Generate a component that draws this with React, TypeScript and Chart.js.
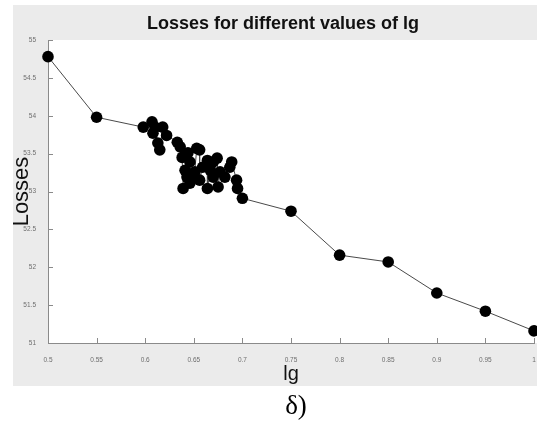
import React, { useEffect, useRef } from 'react';
import { Chart, registerables } from 'chart.js';

Chart.register(...registerables);

const TITLE = 'Losses for different values of lg';
const X_LABEL = 'lg';
const Y_LABEL = 'Losses';
const CAPTION = 'δ)';

const lgValues = [
  0.5, 0.55, 0.598, 0.607, 0.608, 0.61, 0.613, 0.615, 0.618, 0.622,
  0.633, 0.636, 0.638, 0.639, 0.641, 0.643, 0.644, 0.646, 0.646, 0.649,
  0.651, 0.653, 0.656, 0.656, 0.659, 0.664, 0.664, 0.667, 0.67, 0.67,
  0.674, 0.675, 0.677, 0.682, 0.687, 0.689, 0.694, 0.695, 0.7, 0.75,
  0.8, 0.85, 0.9, 0.95, 1.0,
];
const lossValues = [
  54.78, 53.98, 53.85, 53.92, 53.77, 53.85, 53.64, 53.55, 53.85, 53.74,
  53.65, 53.59, 53.45, 53.04, 53.28, 53.19, 53.51, 53.39, 53.11, 53.18,
  53.26, 53.57, 53.55, 53.15, 53.32, 53.41, 53.04, 53.28, 53.39, 53.19,
  53.44, 53.06, 53.26, 53.19, 53.32, 53.39, 53.15, 53.04, 52.91, 52.74,
  52.16, 52.07, 51.66, 51.42, 51.16,
];

const xTicks = [0.5, 0.55, 0.6, 0.65, 0.7, 0.75, 0.8, 0.85, 0.9, 0.95, 1];
const xTickLabels = ['0.5', '0.55', '0.6', '0.65', '0.7', '0.75', '0.8', '0.85', '0.9', '0.95', '1'];
const yTicks = [51, 51.5, 52, 52.5, 53, 53.5, 54, 54.5, 55];
const yTickLabels = ['51', '51.5', '52', '52.5', '53', '53.5', '54', '54.5', '55'];

const W = 537;
const H = 428;

const decorPlugin = {
  id: 'decor',
  beforeDraw(chart: any) {
    const { ctx, chartArea } = chart;
    ctx.save();
    ctx.fillStyle = '#ffffff';
    ctx.fillRect(0, 0, chart.width, chart.height);
    ctx.fillStyle = '#ebebeb';
    ctx.fillRect(13, 5, chart.width - 13, 381);
    ctx.fillStyle = '#ffffff';
    ctx.fillRect(chartArea.left, chartArea.top, chart.width - chartArea.left, chartArea.bottom - chartArea.top);
    ctx.restore();
  },
  beforeDatasetsDraw(chart: any) {
    const { ctx, chartArea, scales } = chart;
    ctx.save();
    ctx.strokeStyle = '#8a8a8a';
    ctx.lineWidth = 1;
    ctx.beginPath();
    xTicks.forEach((v) => {
      const px = Math.round(scales.x.getPixelForValue(v)) + 0.5;
      ctx.moveTo(px, chartArea.bottom);
      ctx.lineTo(px, chartArea.bottom - 5);
    });
    yTicks.forEach((v) => {
      const py = Math.round(scales.y.getPixelForValue(v)) + 0.5;
      ctx.moveTo(chartArea.left, py);
      ctx.lineTo(chartArea.left + 5, py);
    });
    ctx.stroke();
    ctx.restore();
  },
  afterDraw(chart: any) {
    const { ctx } = chart;
    ctx.save();
    ctx.fillStyle = '#111111';
    ctx.textAlign = 'center';
    ctx.textBaseline = 'alphabetic';
    ctx.font = 'bold 18px "Liberation Sans", Arial, sans-serif';
    ctx.fillText(TITLE, 283, 29);
    ctx.fillStyle = '#000000';
    ctx.font = '27px "Liberation Serif", "Times New Roman", serif';
    ctx.fillText(CAPTION, 296, 414);
    ctx.restore();
  },
};

export default function App() {
  const ref = useRef<HTMLCanvasElement | null>(null);

  useEffect(() => {
    if (!ref.current) return;
    const points = lgValues.map((x, i) => ({ x, y: lossValues[i] }));
    const chart = new Chart(ref.current, {
      type: 'line',
      data: {
        datasets: [
          {
            data: points,
            borderColor: '#4a4a4a',
            borderWidth: 1,
            pointRadius: 5.8,
            pointHoverRadius: 5.8,
            pointBackgroundColor: '#000000',
            pointBorderColor: '#000000',
            pointBorderWidth: 0,
            tension: 0,
            clip: false as any,
          },
        ],
      },
      options: {
        animation: false,
        responsive: false,
        devicePixelRatio: 1,
        layout: { autoPadding: false, padding: { left: 0, right: 3, top: 40, bottom: 42 } },
        plugins: {
          legend: { display: false },
          tooltip: { enabled: false },
          title: { display: false },
        },
        scales: {
          x: {
            type: 'linear',
            min: 0.5,
            max: 1,
            afterBuildTicks: (scale: any) => {
              scale.ticks = xTicks.map((v) => ({ value: v }));
            },
            afterFit: (scale: any) => {
              scale.height = 43;
              scale.paddingRight = 0;
              scale.paddingLeft = 0;
            },
            grid: { display: false },
            border: { display: true, color: '#8a8a8a', width: 1 },
            ticks: {
              autoSkip: false,
              maxRotation: 0,
              padding: 5,
              color: '#6e6e6e',
              font: { size: 6.5, family: '"Liberation Sans", Arial, sans-serif' },
              callback: (_v: any, i: number) => xTickLabels[i],
            },
            title: {
              display: true,
              text: X_LABEL,
              color: '#111111',
              font: { size: 20, family: '"Liberation Sans", Arial, sans-serif' },
              padding: { top: 0, bottom: 0 },
            },
          },
          y: {
            type: 'linear',
            min: 51,
            max: 55,
            afterBuildTicks: (scale: any) => {
              scale.ticks = yTicks.map((v) => ({ value: v }));
            },
            afterFit: (scale: any) => {
              scale.width = 48;
              scale.paddingTop = 0;
              scale.paddingBottom = 0;
            },
            grid: { display: false },
            border: { display: true, color: '#8a8a8a', width: 1 },
            ticks: {
              autoSkip: false,
              padding: 4,
              color: '#6e6e6e',
              font: { size: 6.5, family: '"Liberation Sans", Arial, sans-serif' },
              callback: (_v: any, i: number) => yTickLabels[i],
            },
            title: {
              display: true,
              text: Y_LABEL,
              color: '#111111',
              font: { size: 22, family: '"Liberation Sans", Arial, sans-serif' },
              padding: { top: 9, bottom: 0 },
            },
          },
        },
      },
      plugins: [decorPlugin],
    } as any);
    return () => chart.destroy();
  }, []);

  return (
    <div style={{ position: 'fixed', left: 0, top: 0, width: W, height: H, background: '#ffffff' }}>
      <canvas ref={ref} width={W} height={H} style={{ width: W, height: H, display: 'block' }} />
    </div>
  );
}
